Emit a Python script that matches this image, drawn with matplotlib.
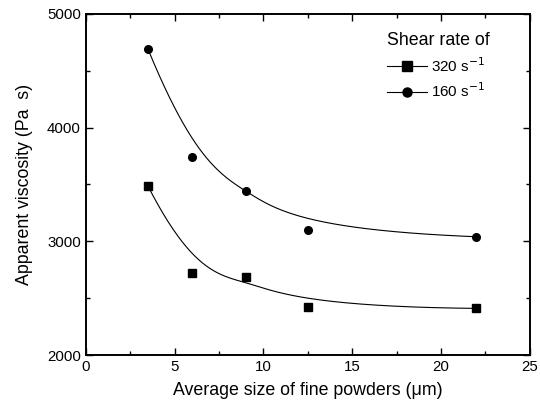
import numpy as np
import matplotlib.pyplot as plt
from matplotlib.ticker import MultipleLocator

plt.rcParams['font.family'] = ['Liberation Sans', 'DejaVu Sans']

size = [3.5, 6, 9, 12.5, 22]
visc_320 = [3485, 2725, 2685, 2425, 2410]
visc_160 = [4690, 3740, 3440, 3100, 3040]


def bspline(xs, ys, n=200):
    # clamped cubic B-spline using the data points as control points
    pts = np.column_stack([xs, ys]).astype(float)
    k = 3
    m = len(pts)
    inner = np.linspace(0, 1, m - k + 1)[1:-1]
    knots = np.concatenate([[0] * (k + 1), inner, [1] * (k + 1)])
    t = np.linspace(0, 1 - 1e-9, n)

    def basis(i, d, t):
        if d == 0:
            return ((knots[i] <= t) & (t < knots[i + 1])).astype(float)
        a = 0.0
        b = 0.0
        if knots[i + d] != knots[i]:
            a = (t - knots[i]) / (knots[i + d] - knots[i]) * basis(i, d - 1, t)
        if knots[i + d + 1] != knots[i + 1]:
            b = (knots[i + d + 1] - t) / (knots[i + d + 1] - knots[i + 1]) * basis(i + 1, d - 1, t)
        return a + b

    out = sum(basis(i, k, t)[:, None] * pts[i] for i in range(m))
    return out[:, 0], out[:, 1]


fig = plt.figure(figsize=(5.4, 4.09), dpi=100)
ax = fig.add_axes([0.159, 0.132, 0.822, 0.834])

for yv, mk, lab in [(visc_320, 's', '320 s$^{-1}$'), (visc_160, 'o', '160 s$^{-1}$')]:
    cx, cy = bspline(size, yv)
    ax.plot(cx, cy, color='black', lw=0.8)
    ax.plot(size, yv, ls='none', marker=mk, color='black', ms=5.5)
    ax.plot([], [], color='black', lw=0.8, marker=mk, ms=6.5, label=lab)

ax.set_xlim(0, 25)
ax.set_ylim(2000, 5000)
ax.xaxis.set_major_locator(MultipleLocator(5))
ax.xaxis.set_minor_locator(MultipleLocator(2.5))
ax.yaxis.set_major_locator(MultipleLocator(1000))
ax.yaxis.set_minor_locator(MultipleLocator(500))
ax.tick_params(which='both', direction='in', top=True, right=True, labelsize=10.8, width=1)
ax.tick_params(which='major', length=5)
ax.tick_params(which='minor', length=3)
for s in ax.spines.values():
    s.set_linewidth(1.4)

ax.set_xlabel('Average size of fine powders (μm)', fontsize=12.8, labelpad=6)
ax.set_ylabel('Apparent viscosity (Pa  s)', fontsize=12.8, labelpad=10)

leg = ax.legend(title='Shear rate of', loc='upper left', bbox_to_anchor=(0.665, 0.965),
                frameon=False, fontsize=11, title_fontsize=12.8, handlelength=2.6,
                handletextpad=0.3, borderaxespad=0.0, labelspacing=0.45)
leg._legend_box.align = 'left'

fig.savefig('out.png', dpi=100)
